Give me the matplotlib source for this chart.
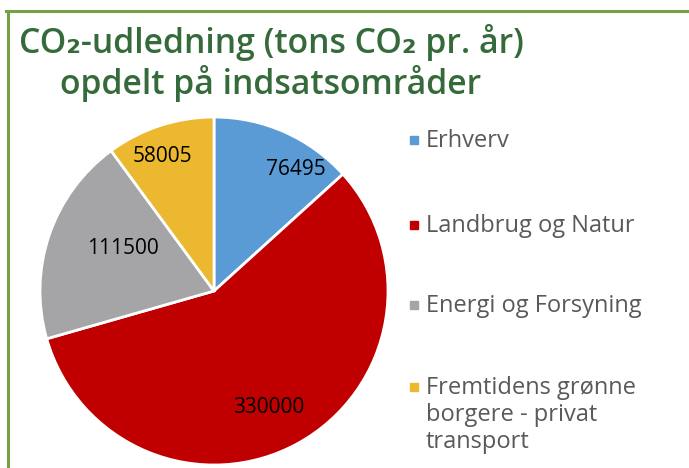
import numpy as np
import matplotlib.pyplot as plt
from matplotlib.lines import Line2D
from matplotlib.patches import Rectangle

categories = ['Erhverv', 'Landbrug og Natur', 'Energi og Forsyning',
              'Fremtidens grønne\nborgere - privat\ntransport']
values = [76495, 330000, 111500, 58005]
colors = ['#5B9BD5', '#C00000', '#A5A5A7', '#EBB82F']

# Excel "best fit" label placement: radial fraction and angle shift per wedge
label_dist = [0.84, 0.74, 0.58, 0.83]
label_shift = [-10, -4, -6, 3]

fig = plt.figure(figsize=(6.89, 4.68), dpi=100)

# green frame
green = '#77A043'
fig.add_artist(Line2D([6 / 689, 1], [1 - 11 / 468, 1 - 11 / 468], color=green, lw=2.2))
fig.add_artist(Line2D([8 / 689, 8 / 689], [0, 1 - 11 / 468], color=green, lw=2.2))

fig.text(271 / 689, 1 - 63 / 468, 'CO₂-udledning (tons CO₂ pr. år)\nopdelt på indsatsområder',
         ha='center', va='center', fontsize=24.3, color='#356A3A', fontweight='semibold',
         family=['Open Sans', 'DejaVu Sans'], linespacing=1.15)

ax = fig.add_axes([40 / 689, 3 / 468, 348 / 689, 348 / 468])
wedges, _ = ax.pie(values, colors=colors, startangle=90, counterclock=False,
                   radius=1, wedgeprops=dict(edgecolor='white', linewidth=2))
ax.set_xlim(-1, 1)
ax.set_ylim(-1, 1)
ax.axis('off')

for w, v, d, s in zip(wedges, values, label_dist, label_shift):
    ang = np.deg2rad((w.theta1 + w.theta2) / 2 + s)
    ax.text(d * np.cos(ang), d * np.sin(ang), str(v), ha='center', va='center',
            fontsize=15, color='black', family='Open Sans')

# legend
legend_y = [140, 225, 305, 387]
for lab, col, y in zip(categories, colors, legend_y):
    fig.add_artist(Rectangle((410 / 689, 1 - (y + 4) / 468), 8 / 689, 8 / 468,
                             color=col, transform=fig.transFigure))
    fig.text(426 / 689, 1 - (y - 11) / 468, lab, ha='left', va='top', fontsize=17,
             color='#595959', family='Open Sans', linespacing=1.18)

fig.savefig('out.png', dpi=100)
